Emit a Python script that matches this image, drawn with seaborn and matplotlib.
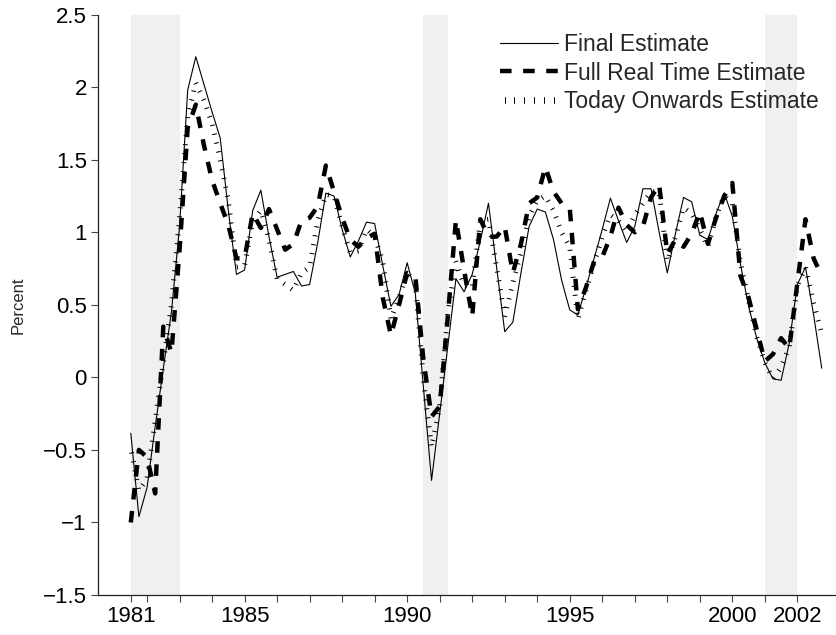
import numpy as np
import pandas as pd
import matplotlib
matplotlib.use("Agg")
import matplotlib.pyplot as plt
import matplotlib.patheffects as pe
from matplotlib.lines import Line2D
import seaborn as sns

# ---- data (quarterly, 1981Q3 .. 2002Q4) ----
periods = pd.period_range("1981Q3", "2002Q4", freq="Q")
decimal_time = periods.year + (periods.quarter - 1) / 4.0

final_estimate = [
    -0.385, -0.96, -0.76, -0.34, 0.06, 0.45, 1.04, 1.98, 2.21, 2.02,
    1.83, 1.65, 1.15, 0.71, 0.74, 1.15, 1.29, 0.97, 0.69, 0.71,
    0.73, 0.63, 0.64, 0.93, 1.27, 1.25, 1.02, 0.83, 0.94, 1.07,
    1.06, 0.77, 0.49, 0.57, 0.79, 0.58, -0.07, -0.71, -0.25, 0.215,
    0.68, 0.59, 0.71, 0.94, 1.20, 0.76, 0.315, 0.38, 0.72, 1.04,
    1.16, 1.14, 0.95, 0.67, 0.465, 0.43, 0.62, 0.82, 1.02, 1.235,
    1.08, 0.93, 1.04, 1.30, 1.30, 1.00, 0.72, 0.99, 1.24, 1.21,
    0.98, 0.95, 1.13, 1.27, 1.11, 0.78, 0.49, 0.27, 0.10, -0.01,
    -0.02, 0.235, 0.64, 0.76, 0.43, 0.063,
]
full_real_time = [
    -1.00, -0.50, -0.55, -0.80, 0.35, 0.17, 0.88, 1.72, 1.88, 1.60,
    1.36, 1.20, 1.05, 0.82, 0.82, 1.13, 1.03, 1.16, 1.02, 0.88,
    0.92, 1.08, 1.10, 1.18, 1.46, 1.28, 1.10, 0.95, 0.90, 0.96,
    0.99, 0.55, 0.29, 0.50, 0.72, 0.70, 0.12, -0.27, -0.20, 0.42,
    1.085, 0.74, 0.42, 1.09, 0.97, 0.97, 1.04, 0.72, 0.92, 1.20,
    1.24, 1.45, 1.28, 1.20, 1.17, 0.47, 0.62, 0.80, 0.83, 0.97,
    1.17, 1.05, 1.00, 1.04, 1.24, 1.33, 0.85, 0.95, 0.90, 0.99,
    1.14, 0.92, 1.10, 1.25, 1.34, 0.70, 0.55, 0.33, 0.11, 0.16,
    0.27, 0.20, 0.65, 1.09, 0.82, 0.70,
]
today_onwards = [
    -0.49, -0.78, -0.70, -0.30, 0.10, 0.50, 1.10, 1.80, 2.03, 1.91,
    1.75, 1.50, 1.22, 0.76, 0.77, 1.08, 1.15, 0.95, 0.68, 0.64,
    0.60, 0.72, 0.76, 1.08, 1.26, 1.25, 1.04, 0.86, 0.87, 1.02,
    0.97, 0.80, 0.40, 0.55, 0.72, 0.65, -0.02, -0.48, -0.20, 0.44,
    0.80, 0.63, 0.62, 1.08, 1.09, 0.76, 0.42, 0.65, 0.86, 1.11,
    1.22, 1.25, 1.15, 1.00, 0.90, 0.40, 0.60, 0.79, 0.97, 1.12,
    1.08, 1.00, 1.12, 1.20, 1.28, 1.28, 0.80, 0.97, 1.17, 1.13,
    1.02, 0.90, 1.11, 1.25, 1.20, 0.79, 0.53, 0.28, 0.10, -0.01,
    0.07, 0.21, 0.63, 0.76, 0.51, 0.30,
]
series_labels = ["Final Estimate", "Full Real Time Estimate", "Today Onwards Estimate"]

recession_starts = [1981.5, 1990.5, 2001.0]
recession_ends = [1983.0, 1991.25, 2002.0]

x_tick_positions = [1981.5] + list(range(1982, 2003))
x_tick_labelled = {1981.5: "1981", 1985: "1985", 1990: "1990", 1995: "1995",
                   2000: "2000", 2002: "2002"}
y_ticks = [-1.5, -1, -0.5, 0, 0.5, 1, 1.5, 2, 2.5]

df = pd.DataFrame({
    "time": decimal_time,
    "final": final_estimate,
    "realtime": full_real_time,
    "today": today_onwards,
})

# ---- style ----
sns.set_style("ticks")
plt.rcParams["font.family"] = ["Liberation Sans", "DejaVu Sans"]

fig = plt.figure(figsize=(8.37, 6.35), dpi=100)
ax = fig.add_axes([0.1174, 0.0630, 0.8838, 0.9139])

for a, b in zip(recession_starts, recession_ends):
    ax.axvspan(a, b, color="#f0f0f0", lw=0, zorder=0)


def tick_effects(half_len):
    return [pe.TickedStroke(spacing=6.5, angle=90, length=half_len),
            pe.TickedStroke(spacing=6.5, angle=-90, length=half_len)]


sns.lineplot(data=df, x="time", y="final", ax=ax, color="black", lw=0.8, zorder=3)
sns.lineplot(data=df, x="time", y="realtime", ax=ax, color="black", lw=3.2,
             zorder=4).lines[-1].set_dashes((2.6, 2.6))
sns.lineplot(data=df, x="time", y="today", ax=ax, color="black", lw=0.7,
             path_effects=tick_effects(0.24), zorder=2)

ax.set_xlim(1980.5, 2003.25)
ax.set_ylim(-1.5, 2.5)
ax.set_xticks(x_tick_positions)
ax.set_xticklabels([x_tick_labelled.get(p, "") for p in x_tick_positions])
ax.set_yticks(y_ticks)
ax.set_yticklabels([("%g" % v).replace("-", "\u2212") for v in y_ticks])
ax.set_xlabel("")
ax.set_ylabel("Percent", fontsize=12, labelpad=12.5)

sns.despine(ax=ax)
for s in ("left", "bottom"):
    ax.spines[s].set_color("#222222")
    ax.spines[s].set_linewidth(0.9)
ax.tick_params(direction="out", length=4.8, width=0.8, color="#444444",
               labelsize=16, pad=3.4, labelcolor="black")

handles = [
    Line2D([], [], color="black", lw=0.8),
    Line2D([], [], color="black", lw=3.2, dashes=(2.6, 2.6)),
    Line2D([], [], color="black", lw=0.7, path_effects=tick_effects(0.3)),
]
fig.legend(handles, series_labels, loc="upper left",
           bbox_to_anchor=(500 / 837, 1 - 33 / 635), frameon=False,
           fontsize=16.5, handlelength=2.55, handletextpad=0.25,
           labelspacing=0.24, borderpad=0, borderaxespad=0)

fig.savefig("out.png", dpi=100)
